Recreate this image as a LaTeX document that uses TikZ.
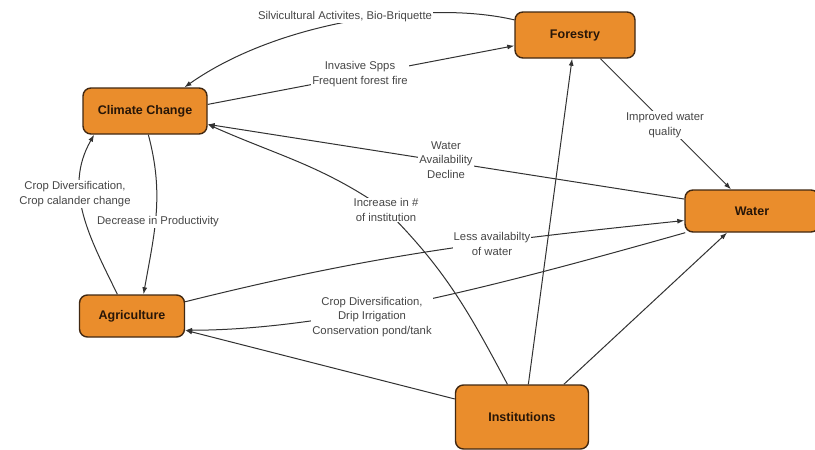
\documentclass[tikz,border=0pt]{standalone}
\usepackage{fontspec}
\setmainfont{Liberation Sans}
\usetikzlibrary{arrows.meta}
\pgfdeclarelayer{bg}
\pgfsetlayers{bg,main}
\definecolor{boxfill}{RGB}{234,141,44}
\definecolor{boxline}{RGB}{65,40,18}
\definecolor{boxtext}{RGB}{40,22,8}
\definecolor{lbl}{RGB}{70,70,70}
\definecolor{edgec}{RGB}{50,50,50}
\begin{document}
\begin{tikzpicture}[x=1pt,y=1pt,
 box/.style={draw=boxline, line width=1.4pt, fill=boxfill, rounded corners=8pt,
   font=\bfseries\fontsize{12.5}{14}\selectfont, text=boxtext, inner sep=0pt},
 lab/.style={fill=white, text=lbl, font=\fontsize{11.3}{14.5}\selectfont, align=center, inner sep=1pt},
 arr/.style={draw=edgec, line width=1pt, -{Latex[length=7pt,width=5pt]}},
 ln/.style={draw=edgec, line width=1pt}]
\useasboundingbox (0,0) rectangle (815,-450);

% boxes
\node[box, minimum width=120pt, minimum height=46pt] (forestry) at (575,-35) {Forestry};
\node[box, minimum width=124pt, minimum height=46pt] (cc) at (145,-111) {Climate Change};
\node[box, minimum width=134pt, minimum height=42pt] (water) at (752,-211) {Water};
\node[box, minimum width=105pt, minimum height=42pt] (agri) at (132,-316) {Agriculture};
\node[box, minimum width=133pt, minimum height=64pt] (inst) at (522,-417) {Institutions};

% labels
\node[lab] (l1) at (345,-17) {Silvicultural Activites, Bio-Briquette};
\node[lab] (l2) at (360,-74) {Invasive Spps\\Frequent forest fire};
\node[lab] (l3) at (446,-160) {Water\\Availability\\Decline};
\node[lab] (l4) at (386,-210) {Increase in \#\\of institution};
\node[lab] (l5) at (492,-244) {Less availabilty\\of water};
\node[lab] (l6) at (372,-317) {Crop Diversification,\\Drip Irrigation\\Conservation pond/tank};
\node[lab] (l7) at (665,-125) {Improved water\\quality};
\node[lab] (l8) at (75,-194) {Crop Diversification,\\Crop calander change};
\node[lab] (l9) at (158,-222) {Decrease in Productivity};

\begin{pgfonlayer}{bg}
\fill[white] (0,0) rectangle (815,-450);
% Forestry -> Climate Change
\draw[arr] (forestry.166) .. controls (430,0) and (280,-20) .. (cc.31);
% Climate Change -> Forestry
\draw[arr] (cc.6) -- (forestry.190);
% Water -> Climate Change
\draw[arr] (water.170) -- (cc.-12);
% Institutions -> Climate Change
\draw[arr] (inst.114) to[out=118,in=-45] (l4.center) to[out=145,in=-24] (cc.-12);
% Climate Change -> Agriculture
\draw[arr] (cc.-82) to[out=-75,in=80] (agri.62);
% Agriculture -> Climate Change
\draw[arr] (agri.124) to[out=116,in=-120] (cc.-155);
% Agriculture -> Water
\draw[arr] (agri.15) to[out=14,in=186] (water.188);
% Water -> Agriculture
\draw[arr] (water.198) .. controls (500,-285) and (330,-330) .. (agri.-15);
% Institutions -> Agriculture
\draw[arr] (inst.165) -- (agri.-15);
% Institutions -> Forestry
\draw[arr] (inst.79) -- (forestry.-97);
% Institutions -> Water
\draw[arr] (inst.38) -- (water.221);
% Forestry -> Water
\draw[arr] (forestry.-43) -- (water.134);
\end{pgfonlayer}
\end{tikzpicture}
\end{document}
